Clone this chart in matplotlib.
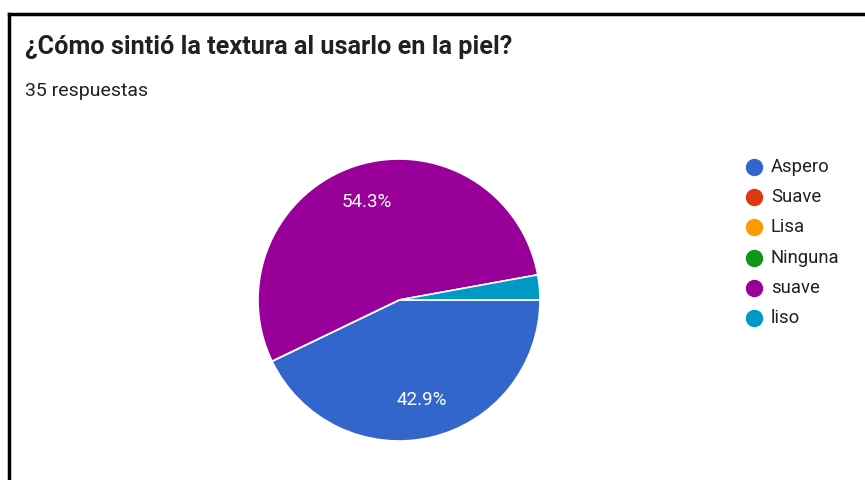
import matplotlib.pyplot as plt
from matplotlib.lines import Line2D

plt.rcParams['font.family'] = ['Roboto', 'DejaVu Sans']

# datos de la encuesta (35 respuestas)
labels = ['Aspero', 'Suave', 'Lisa', 'Ninguna', 'suave', 'liso']
counts = [15, 0, 0, 0, 19, 1]
colors = ['#3366cc', '#dc3912', '#ff9900', '#109618', '#990099', '#0099c6']
title = '¿Cómo sintió la textura al usarlo en la piel?'
subtitle = '35 respuestas'

W, H = 865, 480
fig = plt.figure(figsize=(W / 100, H / 100), dpi=100)

# marco negro (arriba e izquierda)
fig.add_artist(Line2D([9 / W, 9 / W], [0, 1 - 14 / H], color='black', lw=2.5))
fig.add_artist(Line2D([9 / W, 1], [1 - 14 / H, 1 - 14 / H], color='black', lw=2.5))

fig.text(25 / W, 1 - 47 / H, title, fontsize=18.2, fontweight='bold', color='#202124', va='center')
fig.text(25 / W, 1 - 91 / H, subtitle, fontsize=14, color='#202124', va='center')

# pastel: centro (399, 300) px, radio 141 px
cx, cy, r = 399, 300, 141
ax = fig.add_axes([(cx - r) / W, (H - cy - r) / H, 2 * r / W, 2 * r / H])


def pct(p):
    return '%.1f%%' % p if p > 5 else ''


wedges, texts, autotexts = ax.pie(counts, colors=colors, startangle=0, counterclock=False,
                                  autopct=pct, pctdistance=0.73,
                                  wedgeprops=dict(edgecolor='white', linewidth=1.2),
                                  textprops=dict(color='white', fontsize=13.5))
ax.set_xlim(-1, 1)
ax.set_ylim(-1, 1)

# leyenda
for i, (lab, col) in enumerate(zip(labels, colors)):
    y = 1 - (167 + i * 30.2) / H
    fig.add_artist(Line2D([754 / W], [y], marker='o', markersize=11.5, color=col, linestyle=''))
    fig.text(771 / W, y, lab, fontsize=13.3, color='#202124', va='center')

fig.savefig('out.png', dpi=100)
